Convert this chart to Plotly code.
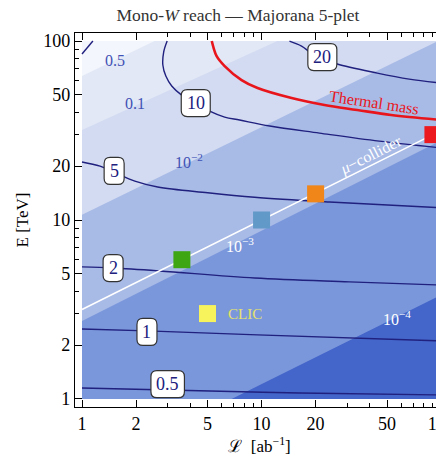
import numpy as np
import plotly.graph_objects as go

# ---------------- data ----------------
tick_vals = [1, 2, 5, 10, 20, 50, 100]
tick_text = ["1", "2", "5", "10", "20", "50", "100"]
minor_vals = [3, 4, 6, 7, 8, 9, 30, 40, 60, 70, 80, 90]

# background bands: boundary E at L=1 and at L=100
band_labels = ["0.5", "0.1", "10<sup>−2</sup>", "10<sup>−3</sup>", "10<sup>−4</sup>"]
band_E_L1 = [63.7, 31.8, 10.7, 2.73, 0.385]
band_E_L100 = [594, 261, 102, 27.8, 3.81]
band_label_L = [1.525, 1.97, 3.93, 7.54, 57.0]
band_label_E = [78.3, 44.5, 21.4, 7.25, 2.84]
band_colors = ["#f3f6fc", "#e2e8f6", "#d2dbf1", "#a8bae6", "#7b97db", "#4465c9"]
band_label_colors = ["#3f51b5", "#3f51b5", "#3f51b5", "#ffffff", "#ffffff"]

# reach contours (Mono-W reach)
reach_05_L = [1, 3.0, 16.3, 100]
reach_05_E = [1.152, 1.123, 1.080, 1.053]
reach_1_L = [1, 2.30, 9.5, 100]
reach_1_E = [2.46, 2.40, 2.28, 2.11]
reach_2_L = [1, 1.49, 2.71, 9.15, 30.8, 100]
reach_2_E = [5.47, 5.39, 5.19, 4.74, 4.51, 4.33]
reach_5_L = [1, 1.26, 1.51, 1.97, 2.64, 5.01, 9.14, 23.9, 100]
reach_5_E = [21.1, 20.0, 18.5, 16.5, 15.3, 14.2, 13.4, 12.6, 11.7]
reach_10_L = [2.98, 2.85, 2.82, 2.93, 3.16, 3.59, 4.30, 5.14, 6.23, 7.55, 11.1, 21.0, 45.2, 100]
reach_10_E = [100, 86.8, 73.5, 63.7, 56.1, 49.9, 45.0, 40.6, 37.6, 36.2, 33.5, 30.6, 27.6, 25.3]
reach_20_L = [14.3, 16.7, 18.9, 21.8, 26.4, 44.1, 66.4, 100]
reach_20_E = [100, 93.8, 85.7, 80.4, 74.4, 66.2, 61.3, 58.3]
reach_50_L = [1, 1.15]
reach_50_E = [84.7, 100]

box_labels = ["0.5", "1", "2", "5", "10", "20"]
box_L = [3.0, 2.30, 1.49, 1.51, 4.30, 21.8]
box_E = [1.21, 2.37, 5.39, 18.8, 45.0, 81.4]

# thermal mass
thermal_L = [5.28, 5.41, 5.62, 6.23, 7.74, 9.50, 14.7, 22.4, 34.1, 52.7, 100]
thermal_E = [100, 91.4, 82.4, 72.5, 60.5, 54.6, 48.0, 43.9, 41.2, 38.6, 36.2]

# muon collider line and benchmark points
mucol_line_L = [1, 90]
mucol_line_E = [3.16, 30]
mu_L = [3.6, 10, 20, 90]
mu_E = [6, 10, 14, 30]
mu_colors = ["#3ea513", "#6199c9", "#f08519", "#ec1a1f"]
clic_L = [5]
clic_E = [3]

FONT = "Liberation Serif, Times New Roman, serif"
NAVY = "#20207e"

fig = go.Figure()

# ---------------- bands ----------------
def clip_below(poly, a, b):
    out = []
    n = len(poly)
    f = lambda p: a + b * p[0] - p[1]
    for i in range(n):
        P, Q = poly[i], poly[(i + 1) % n]
        fp, fq = f(P), f(Q)
        if fp >= 0:
            out.append(P)
        if (fp >= 0) != (fq >= 0):
            t = fp / (fp - fq)
            out.append((P[0] + t * (Q[0] - P[0]), P[1] + t * (Q[1] - P[1])))
    return out

box = [(0.0, 0.0), (2.0, 0.0), (2.0, 2.0), (0.0, 2.0)]
polys = [box]
for e1, e100 in zip(band_E_L1, band_E_L100):
    a = np.log10(e1)
    b = (np.log10(e100) - a) / 2.0
    polys.append(clip_below(box, a, b))

for poly, col in zip(polys, band_colors):
    xs = [10 ** p[0] for p in poly] + [10 ** poly[0][0]]
    ys = [10 ** p[1] for p in poly] + [10 ** poly[0][1]]
    fig.add_trace(go.Scatter(x=xs, y=ys, mode="lines", fill="toself",
                             fillcolor=col, line=dict(width=0, color=col),
                             hoverinfo="skip", showlegend=False))

# ---------------- lines ----------------
for Ls, Es in [(reach_05_L, reach_05_E), (reach_1_L, reach_1_E), (reach_2_L, reach_2_E),
               (reach_5_L, reach_5_E), (reach_10_L, reach_10_E), (reach_20_L, reach_20_E),
               (reach_50_L, reach_50_E)]:
    fig.add_trace(go.Scatter(x=Ls, y=Es, mode="lines", line=dict(color=NAVY, width=1.4),
                             line_shape="spline", hoverinfo="skip", showlegend=False))

fig.add_trace(go.Scatter(x=thermal_L, y=thermal_E, mode="lines", line_shape="spline",
                         line=dict(color="#e8161c", width=2.6), showlegend=False))
fig.add_trace(go.Scatter(x=mucol_line_L, y=mucol_line_E, mode="lines",
                         line=dict(color="white", width=1.6), showlegend=False))
fig.add_trace(go.Scatter(x=mu_L, y=mu_E, mode="markers",
                         marker=dict(symbol="square", size=17, color=mu_colors,
                                     line=dict(width=0)), showlegend=False))
fig.add_trace(go.Scatter(x=clic_L, y=clic_E, mode="markers",
                         marker=dict(symbol="square", size=17, color="#f6f35c",
                                     line=dict(width=0)), showlegend=False))

# rounded label boxes (pixel-sized, anchored at the label positions)
def rounded_path(w, h, r):
    return (f"M {-w + r},{-h} L {w - r},{-h} Q {w},{-h} {w},{-h + r} "
            f"L {w},{h - r} Q {w},{h} {w - r},{h} L {-w + r},{h} Q {-w},{h} {-w},{h - r} "
            f"L {-w},{-h + r} Q {-w},{-h} {-w + r},{-h} Z")

shapes = []
for t, L, E in zip(box_labels, box_L, box_E):
    tw = sum(4.5 if ch == "." else 9 for ch in t) + 11
    shapes.append(dict(type="path", xref="x", yref="y", xsizemode="pixel", ysizemode="pixel",
                       xanchor=L, yanchor=E,
                       path=rounded_path(tw / 2, 13.5, 6),
                       fillcolor="white", line=dict(color="#333333", width=1.2),
                       layer="above"))

ann = []
for t, L, E, c in zip(band_labels, band_label_L, band_label_E, band_label_colors):
    ann.append(dict(x=np.log10(L), y=np.log10(E), text=t, showarrow=False,
                    font=dict(family=FONT, size=16, color=c)))
for t, L, E in zip(box_labels, box_L, box_E):
    ann.append(dict(x=np.log10(L), y=np.log10(E), text=t, showarrow=False,
                    font=dict(family=FONT, size=18, color=NAVY)))
ann.append(dict(x=np.log10(42.4), y=np.log10(45.6), text="Thermal mass", showarrow=False,
                textangle=8.5, font=dict(family=FONT, size=16, color="#e8161c")))
ann.append(dict(x=np.log10(40.8), y=np.log10(23.1), text="<i>μ</i>−collider", showarrow=False,
                textangle=-27, font=dict(family=FONT, size=16, color="white")))
ann.append(dict(x=np.log10(6.31), y=np.log10(2.98), text="CLIC", showarrow=False,
                xanchor="left", font=dict(family=FONT, size=15, color="#e6e36a")))

axis_common = dict(type="log", showgrid=False, zeroline=False, showline=True,
                   linecolor="black", linewidth=1.2, ticks="inside", ticklen=7,
                   tickwidth=1, tickcolor="black", tickmode="array",
                   tickvals=tick_vals, ticktext=tick_text, automargin=False,
                   ticklabeloverflow="allow",
                   tickfont=dict(family=FONT, size=18, color="black"),
                   minor=dict(tickmode="array", tickvals=minor_vals, ticks="inside",
                              ticklen=4, tickwidth=1, tickcolor="black"))

# page body has an 8px margin: figure is 436x450 so that it fits the window exactly
fig.update_layout(
    width=436, height=450,
    margin=dict(l=67, r=0, t=25, b=51, autoexpand=False),
    paper_bgcolor="white", plot_bgcolor="white",
    title=dict(text="Mono-<i>W</i> reach — Majorana 5-plet", x=230 / 436, xref="container",
               xanchor="center", y=1 - 1 / 450, yref="container", yanchor="top",
               pad=dict(t=0, b=0),
               font=dict(family=FONT, size=17.5, color="#333333")),
    xaxis=dict(axis_common, range=[-0.039, 2.016], mirror="ticks",
               title=dict(text="ℒ  [ab<sup>−1</sup>]", standoff=4,
                          font=dict(family=FONT, size=17, color="black"))),
    yaxis=dict(axis_common, range=[-0.045, 2.045], mirror=False,
               title=dict(text="E [TeV]", standoff=10,
                          font=dict(family=FONT, size=17, color="black"))),
    shapes=shapes,
    annotations=ann,
    showlegend=False,
)

fig.write_html("out.html")
